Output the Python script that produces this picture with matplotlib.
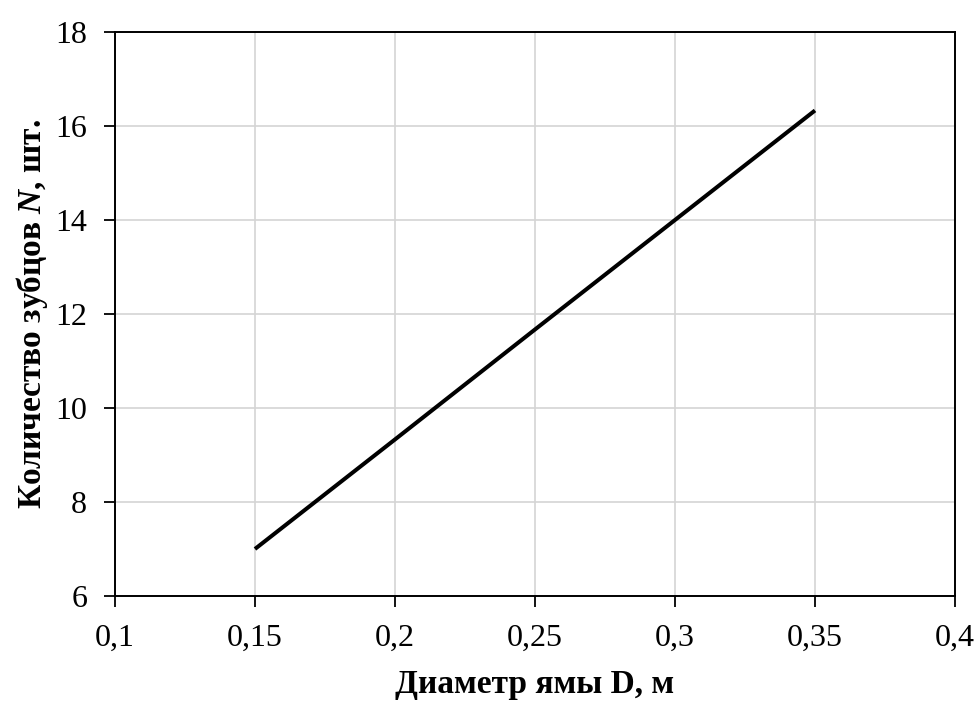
import matplotlib
matplotlib.use("Agg")
import matplotlib.pyplot as plt
from matplotlib.ticker import FuncFormatter

# diameter of the pit D, m  vs  number of teeth N
diameter = [0.15, 0.20, 0.25, 0.30, 0.35]
teeth = [7.0, 9.33, 11.67, 14.0, 16.33]

plt.rcParams["font.family"] = ["Liberation Serif", "DejaVu Serif"]
plt.rcParams["mathtext.fontset"] = "custom"
plt.rcParams["mathtext.bf"] = "Liberation Serif:bold:italic"

fig = plt.figure(figsize=(9.8, 7.09), dpi=100)
ax = fig.add_axes([0.1173, 0.1594, 0.8572, 0.7955])

ax.plot(diameter, teeth, color="black", lw=2.9, solid_capstyle="butt")

ax.set_xlim(0.1, 0.4)
ax.set_ylim(6, 18)
ax.set_xticks([0.1, 0.15, 0.2, 0.25, 0.3, 0.35, 0.4])
ax.set_yticks(range(6, 19, 2))
ax.xaxis.set_major_formatter(FuncFormatter(lambda v, p: f"{v:g}".replace(".", ",")))

ax.grid(True, color="#d4d4d4", lw=1.2)
ax.set_axisbelow(True)
for s in ax.spines.values():
    s.set_linewidth(1.4)
    s.set_color("black")

ax.tick_params(axis="both", direction="out", length=8, width=1.3,
               labelsize=23, pad=12)

ax.set_xlabel("Диаметр ямы D, м", fontsize=24, fontweight="bold", labelpad=12)
ax.set_ylabel("Количество зубцов $\\mathbf{N}$, шт.", fontsize=24,
              fontweight="bold", labelpad=4)

fig.savefig("out.png", dpi=100)
